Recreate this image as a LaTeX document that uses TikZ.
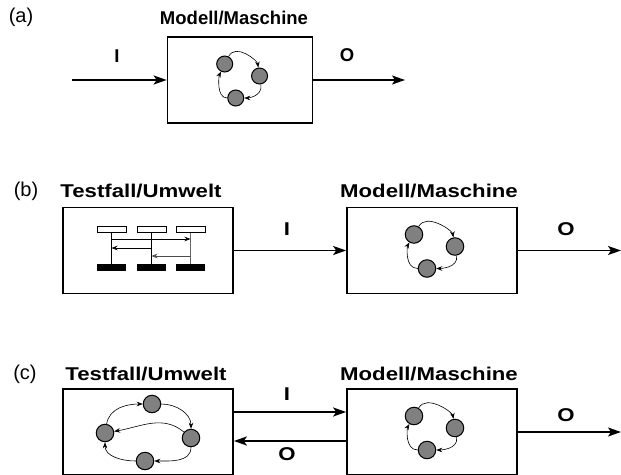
\documentclass[tikz,border=0pt]{standalone}
\usepackage{fontspec}
\setmainfont{Liberation Sans}
\usetikzlibrary{arrows.meta}
\newcommand{\wtxt}[1]{\scalebox{1.2}[1]{#1}}

\begin{document}
\begin{tikzpicture}[x=1pt,y=1pt,
  title/.style={font=\fontsize{18.5}{20}\selectfont\bfseries,inner sep=0pt},
  panel/.style={font=\fontsize{20}{22}\selectfont,inner sep=0pt},
  box/.style={draw,line width=1.7pt,minimum width=170pt,minimum height=86pt},
  flow/.style={line width=1.7pt,-{Stealth[length=13pt,width=9pt,inset=3pt]}},
  state/.style={circle,draw,line width=1pt,fill=gray,minimum size=17.5pt,inner sep=0pt},
  small/.style={line width=0.6pt,-{Stealth[length=6pt,width=4.5pt]}},
  ring/.pic={
    \node[state] (-a) at (-18,16) {};
    \node[state] (-b) at (23,4) {};
    \node[state] (-c) at (-5,-18) {};
    \draw[small] (-a) to[out=60,in=100] (-b);
    \draw[small] (-b) to[out=-80,in=0] (-c);
    \draw[small] (-c) to[out=180,in=-120] (-a);
  }]
\useasboundingbox (0,0) rectangle (621,-474);

% (a)
\node[panel] (la) at (21,-17) {(a)};
\node[title] (ma) at (234,-18) {Modell/Maschine};
\node[box,minimum width=145pt] (boxa) at (240,-80) {};
\pic[xscale=0.85,state/.append style={minimum size=16pt}] (ra) at (240,-80) {ring};
\coordinate (ina) at (72,-80);
\coordinate (outa) at (405,-80);
\draw[flow] (ina) -- (boxa);
\draw[flow] (boxa) -- (outa);
\node[title] at (117,-56) {I};
\node[title] at (347,-55) {O};

% (b)
\node[panel] (lb) at (26,-191) {(b)};
\node[title] (tb) at (141,-191) {\wtxt{Testfall/Umwelt}};
\node[title] (mb) at (429,-191) {\wtxt{Modell/Maschine}};
\node[box] (envb) at (148,-250.5) {};
\node[box] (boxb) at (432,-250.5) {};
\pic (rb) at (432,-250.5) {ring};
\node[draw,line width=0.8pt,minimum width=29pt,minimum height=6pt,inner sep=0pt] (ta) at (111.5,-229.5) {};
\node[draw,line width=0.8pt,minimum width=29pt,minimum height=6pt,inner sep=0pt] (tb) at (151.5,-229.5) {};
\node[draw,line width=0.8pt,minimum width=29pt,minimum height=6pt,inner sep=0pt] (tc) at (190.5,-229.5) {};
\node[fill,minimum width=29pt,minimum height=7pt,inner sep=0pt] (ba) at (111.5,-267.5) {};
\node[fill,minimum width=29pt,minimum height=7pt,inner sep=0pt] (bb) at (151.5,-267.5) {};
\node[fill,minimum width=29pt,minimum height=7pt,inner sep=0pt] (bc) at (190.5,-267.5) {};
\draw[line width=0.8pt] (ta) -- (ba);
\draw[line width=0.8pt] (tb) -- (bb);
\draw[line width=0.8pt,black!60] (tc) -- (bc);
\draw[small] (ta |- 0,-239) -- (tc |- 0,-239);
\draw[small] (tb |- 0,-248) -- (ta |- 0,-248);
\draw[small,black!70] (tc |- 0,-256) -- (tb |- 0,-256);
\coordinate (outb) at (621,-250.5);
\draw[flow] (envb) -- (boxb);
\draw[flow] (boxb) -- (outb);
\node[title] at (287,-229) {\wtxt{I}};
\node[title] at (566,-229) {\wtxt{O}};

% (c)
\node[panel] (lc) at (25,-374) {(c)};
\node[title] (tc2) at (146,-374) {\wtxt{Testfall/Umwelt}};
\node[title] (mc) at (429,-374) {\wtxt{Modell/Maschine}};
\node[box] (envc) at (148,-432) {};
\node[box] (boxc) at (432,-432) {};
\pic (rc) at (432,-432) {ring};
\node[state] (st) at (152,-404) {};
\node[state] (sl) at (105,-433) {};
\node[state] (sr) at (191,-438) {};
\node[state] (sb) at (145,-461) {};
\draw[small] (sl) to[out=80,in=180] (st);
\draw[small] (st) to[out=0,in=90] (sr);
\draw[small] (sr) to[out=140,in=10] (sl);
\draw[small] (sr) to[out=-90,in=0] (sb);
\draw[small] (sb) to[out=180,in=-90] (sl);
\draw[flow] (envc.east |- 0,-412) -- (boxc.west |- 0,-412);
\draw[flow] (boxc.west |- 0,-441) -- (envc.east |- 0,-441);
\coordinate (outc) at (621,-432);
\draw[flow] (boxc) -- (outc);
\node[title] at (287,-394) {\wtxt{I}};
\node[title] at (287,-454) {\wtxt{O}};
\node[title] at (566,-415) {\wtxt{O}};
\end{tikzpicture}
\end{document}
